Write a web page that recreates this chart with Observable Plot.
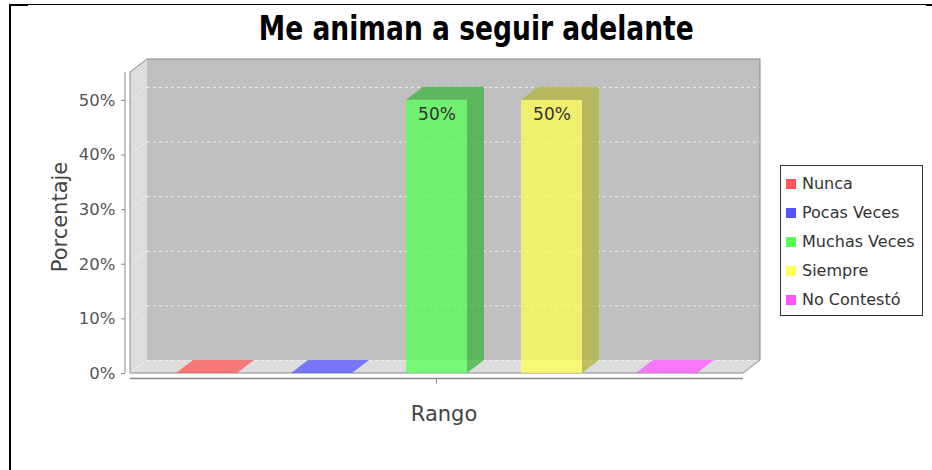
<!DOCTYPE html>
<html>
<head>
<meta charset="utf-8">
<script src="https://cdn.jsdelivr.net/npm/d3@7"></script>
<script src="https://cdn.jsdelivr.net/npm/@observablehq/plot@0.6"></script>
<style>
  body { margin: 0; background: #fff; }
  #wrap { position: relative; width: 932px; height: 470px; overflow: hidden; background: #fff; font-family: "DejaVu Sans", sans-serif; }
  #chart { position: absolute; left: 0; top: 0; }
  #bl { position: absolute; left: 9px; top: 4px; width: 2px; height: 470px; background: #000; }
  #bt { position: absolute; left: 9px; top: 4px; width: 923px; height: 1px; background: #000; }
  #bt1 { position: absolute; left: 9px; top: 4px; width: 19px; height: 2px; background: #000; }
  #bt2 { position: absolute; left: 926px; top: 4px; width: 6px; height: 2px; background: #000; }
  #title { position: absolute; left: 0; top: 12px; width: 952px; text-align: center; }
  #title span { display: inline-block; font-family: "DejaVu Sans Condensed", "DejaVu Sans", sans-serif; font-stretch: condensed; font-weight: bold; font-size: 33px; line-height: 33px; color: #000; transform-origin: center; white-space: nowrap; }
  #legend { position: absolute; left: 780px; top: 165px; width: 141px; height: 149px; border: 1px solid #333; box-sizing: content-box; padding: 0; }
  #legend > div { margin: 3px 0 0 5px !important; font-family: "DejaVu Sans", sans-serif !important; font-size: 16px !important; color: #333 !important; }
  #legend .lg-swatch { height: 29px !important; padding: 0 !important; margin: 0 !important; display: flex !important; align-items: center !important; }
  #legend .lg-swatch svg { margin-right: 6px !important; }
</style>
</head>
<body>
<div id="wrap">
  <div id="chart"></div>
  <div id="bl"></div><div id="bt"></div><div id="bt1"></div><div id="bt2"></div>
  <div id="title"><span id="title-text"></span></div>
  <div id="legend"></div>
</div>
<script>
// ---- data ----
const chartTitle = "Me animan a seguir adelante";
const series = ["Nunca", "Pocas Veces", "Muchas Veces", "Siempre", "No Contestó"];
const values = [0, 0, 50, 50, 0];
const seriesColors = ["#ff5555", "#5555ff", "#55ff55", "#ffff55", "#ff55ff"];
const yTicks = [0, 10, 20, 30, 40, 50];
const yLabel = "Porcentaje";
const xLabel = "Rango";

const data = series.map((s, i) => ({series: s, value: values[i]}));
const DX = 17, DY = 13;       // 3D depth offset in pixels
const ALPHA = 0.75;

function darker(c) { const k = d3.rgb(c); return d3.rgb(k.r * 0.7, k.g * 0.7, k.b * 0.7).formatHex(); }

function frameBox(dims) {
  return {x0: dims.marginLeft, x1: dims.width - dims.marginRight, yT: dims.marginTop, yB: dims.height - dims.marginBottom};
}

// back wall, left wall, floor, left-wall grid diagonals
function walls(index, scales, values, dims) {
  const {y} = scales;
  const {x0, x1, yT, yB} = frameBox(dims);
  const g = d3.create("svg:g");
  g.append("rect").attr("x", x0 + DX).attr("y", yT - DY).attr("width", x1 - x0).attr("height", yB - yT).attr("fill", "#c0c0c0");
  g.append("path").attr("d", `M${x0},${yB}L${x0},${yT}L${x0 + DX},${yT - DY}L${x0 + DX},${yB - DY}Z`).attr("fill", "#dddddd");
  g.append("path").attr("d", `M${x0},${yB}L${x0 + DX},${yB - DY}L${x1 + DX},${yB - DY}L${x1},${yB}Z`).attr("fill", "#dddddd");
  for (const t of yTicks) {
    const yy = y(t);
    g.append("line").attr("x1", x0).attr("y1", yy).attr("x2", x0 + DX).attr("y2", yy - DY)
      .attr("stroke", "#f4f4f4").attr("stroke-dasharray", "2,2");
  }
  return g.node();
}

// outline of the 3D box + axis lines
function outline(index, scales, values, dims) {
  const {x} = scales;
  const {x0, x1, yT, yB} = frameBox(dims);
  const g = d3.create("svg:g").attr("fill", "none").attr("stroke", "#888");
  g.append("path").attr("d", `M${x0},${yB}L${x0},${yT}L${x0 + DX},${yT - DY}L${x1 + DX},${yT - DY}L${x1 + DX},${yB - DY}L${x1},${yB}Z`);
  g.append("line").attr("x1", x0 - 5).attr("x2", x0 - 5).attr("y1", yT).attr("y2", yB);
  g.append("line").attr("x1", x0).attr("x2", x1).attr("y1", yB + 5.5).attr("y2", yB + 5.5).attr("stroke-width", 1.5);
  const dom = x.domain();
  const cx = (x(dom[0]) + x(dom[dom.length - 1]) + x.bandwidth()) / 2;
  g.append("line").attr("x1", cx).attr("x2", cx).attr("y1", yB + 5.5).attr("y2", yB + 10.5);
  return g.node();
}

// side and top faces of the 3D bars
function bars3d(index, scales, values, dims) {
  const {x, y, color} = scales;
  const bw = x.bandwidth();
  const g = d3.create("svg:g");
  for (const d of data) {
    const xl = x(d.series), xr = xl + bw, yv = y(d.value), y0 = y(0);
    const c = color(d.series);
    if (d.value > 0) {
      g.append("path").attr("d", `M${xr},${y0}L${xr},${yv}L${xr + DX},${yv - DY}L${xr + DX},${y0 - DY}Z`)
        .attr("fill", darker(c)).attr("fill-opacity", ALPHA);
      g.append("path").attr("d", `M${xl},${yv}L${xr},${yv}L${xr + DX},${yv - DY}L${xl + DX},${yv - DY}Z`)
        .attr("fill", darker(c)).attr("fill-opacity", ALPHA);
    } else {
      g.append("path").attr("d", `M${xl},${y0}L${xr},${y0}L${xr + DX},${y0 - DY}L${xl + DX},${y0 - DY}Z`)
        .attr("fill", c).attr("fill-opacity", ALPHA);
    }
  }
  return g.node();
}

const chart = Plot.plot({
  width: 932,
  height: 470,
  marginLeft: 130,
  marginRight: 189,
  marginTop: 72,
  marginBottom: 97,
  style: {fontFamily: "DejaVu Sans, sans-serif", fontSize: "16.5px", color: "#555", background: "transparent", overflow: "visible"},
  x: {type: "band", domain: series, paddingInner: 0.4655, paddingOuter: 0.375, axis: null},
  y: {domain: [0, 55.1], axis: null},
  color: {domain: series, range: seriesColors},
  marks: [
    walls,
    Plot.ruleY(yTicks, {dx: DX, dy: -DY, stroke: "#eeeeee", strokeDasharray: "3,3"}),
    outline,
    Plot.axisY(yTicks, {tickFormat: d => d + "%", tickSize: 4, tickPadding: 6, dx: -5, fontSize: 16.5, stroke: "#888", fill: "#555", label: null}),
    Plot.barY(data, {x: "series", y: "value", fill: "series", fillOpacity: ALPHA}),
    bars3d,
    Plot.text(data.filter(d => d.value > 0), {x: "series", y: "value", text: d => d.value + "%", dy: 14, fontSize: 17, fill: "#333"}),
    Plot.text([yLabel], {frameAnchor: "left", textAnchor: "middle", rotate: -90, dx: -70, dy: -6, fontSize: 21, fill: "#444"}),
    Plot.text([xLabel], {frameAnchor: "bottom", dx: 7, dy: 47, fontSize: 21, fill: "#444"})
  ]
});
document.getElementById("chart").appendChild(chart);

const lg = chart.legend("color", {columns: 1, swatchSize: 10, className: "lg"});
if (lg) document.getElementById("legend").appendChild(lg);

const tt = document.getElementById("title-text");
tt.textContent = chartTitle;
const w = tt.getBoundingClientRect().width;
tt.style.transform = `scaleX(${435 / w})`;
</script>
</body>
</html>
